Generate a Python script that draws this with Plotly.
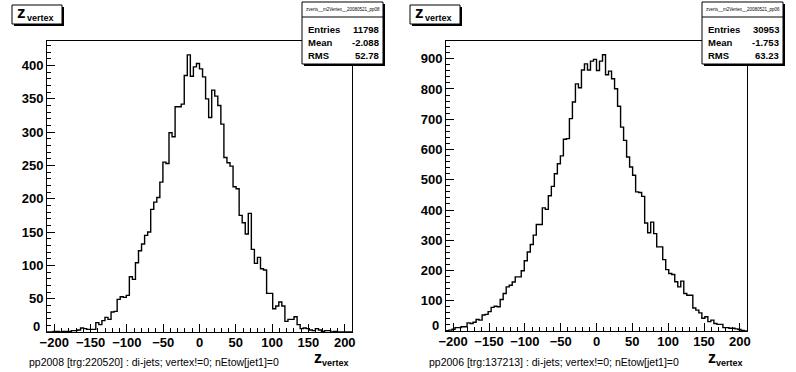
import numpy as np
import plotly.graph_objects as go

W, H = 796, 372

# histogram definition (100 bins from -210 to 210)
x_min, x_max, n_bins = -210.0, 210.0, 100

counts_pp2008 = [
    0, 0, 1, 1, 0, 1, 1, 1, 2, 2, 3, 6, 5, 4, 4, 4,
    14, 11, 17, 22, 19, 30, 31, 49, 53, 52, 55,
    83, 79, 104, 122, 132, 145, 150, 184, 195, 202,
    225, 255, 253, 299, 293, 338, 338, 342, 385, 416,
    384, 398, 403, 395, 383, 350, 322, 363, 354, 340,
    312, 262, 254, 249, 218, 215, 175, 164, 147, 178,
    124, 103, 112, 95, 93, 58, 58, 35, 39, 45,
    39, 16, 19, 19, 23, 11, 5, 6, 5, 3, 2, 5, 3, 1, 2, 2,
    0, 1, 0, 0, 0, 0, 0,
]

counts_pp2006 = [
    1, 3, 6, 11, 11, 14, 14, 27, 25, 29,
    38, 36, 53, 55, 64, 78, 82, 80, 104, 124,
    146, 151, 162, 179, 179, 199, 232, 261, 286, 317,
    352, 352, 407, 402, 447, 478, 520, 553, 579, 634,
    636, 702, 757, 817, 804, 863, 883, 863, 892, 898,
    861, 892, 913, 847, 859, 834, 801, 743, 674, 630,
    575, 542, 515, 460, 458, 445, 357, 325, 360, 322,
    278, 278, 236, 203, 190, 187, 163, 146, 165, 124,
    118, 118, 76, 69, 60, 42, 47, 31, 36, 25,
    22, 22, 11, 11, 9, 9, 7, 5, 2, 0,
]

x_tick_step = 50
stats_pp2008 = [("Entries", "11798"), ("Mean", "-2.088"), ("RMS", "52.78")]
stats_pp2006 = [("Entries", "30953"), ("Mean", "-1.753"), ("RMS", "63.23")]
stat_title_pp2008 = "zverts__m2Vertex__20080521_pp08"
stat_title_pp2006 = "zverts__m2Vertex__20080521_pp06"
note_pp2008 = "pp2008 [trg:220520] : di-jets; vertex!=0; nEtow[jet1]=0"
note_pp2006 = "pp2006 [trg:137213] : di-jets; vertex!=0; nEtow[jet1]=0"
hist_title_main = "z"
hist_title_sub = "vertex"

FONT = "Liberation Sans, Arial, Helvetica, sans-serif"


def px(x):
    return x / W


def py(y):
    return 1 - y / H


edges = np.linspace(x_min, x_max, n_bins + 1)

panels = [
    dict(counts=counts_pp2008, frame=(47, 352, 41, 332), ydt=50, yminor=10,
         stat_x=(302, 383), stats=stats_pp2008, stat_title=stat_title_pp2008,
         title_x=12, note_x=27, note=note_pp2008, xt_right=350),
    dict(counts=counts_pp2006, frame=(446, 747, 41, 331), ydt=100, yminor=20,
         stat_x=(702, 783), stats=stats_pp2006, stat_title=stat_title_pp2006,
         title_x=410, note_x=427, note=note_pp2006, xt_right=744),
]

fig = go.Figure()
shapes = []
annotations = []

for k, p in enumerate(panels):
    idx = "" if k == 0 else str(k + 1)
    c = list(p["counts"])
    xs = [edges[0]] + list(edges[:-1]) + [edges[-1], edges[-1]]
    ys = [0] + c + [c[-1], 0]
    fig.add_trace(go.Scatter(
        x=xs, y=ys, mode="lines", line=dict(color="black", width=1.4, shape="hv"),
        xaxis="x" + idx, yaxis="y" + idx, showlegend=False, hoverinfo="skip",
    ))
    x0, x1, y0, y1 = p["frame"]
    ymax = 1.05 * max(c)
    yticks = list(range(p["ydt"], int(ymax) + 1, p["ydt"]))
    axis_common = dict(
        showline=True, linecolor="black", linewidth=1, mirror=True,
        ticks="inside", ticklen=8, tickcolor="black", tickwidth=1,
        showgrid=False, zeroline=False, automargin=False,
        tickfont=dict(family=FONT, size=13, color="black", weight="bold"),
    )
    fig.update_layout(**{
        "xaxis" + idx: dict(
            domain=[px(x0), px(x1)], range=[x_min, x_max], anchor="y" + idx,
            tickmode="linear", tick0=0, dtick=x_tick_step, ticklabelstandoff=-2,
            minor=dict(ticks="inside", ticklen=4, tickcolor="black",
                       tickmode="linear", dtick=10, tick0=0),
            **axis_common),
        "yaxis" + idx: dict(
            domain=[py(y1), py(y0)], range=[0, ymax], anchor="x" + idx,
            tickmode="array", tickvals=[0] + yticks, ticktext=[""] + [str(v) for v in yticks],
            minor=dict(ticks="inside", ticklen=4, tickcolor="black",
                       tickmode="linear", dtick=p["yminor"], tick0=0),
            **axis_common),
    })
    # the "0" label of the y axis sits slightly above the axis (ROOT style)
    annotations.append(dict(x=px(x0 - 5), y=0, xref="paper", yref="y" + idx,
                            yshift=6, text="<b>0</b>", showarrow=False,
                            xanchor="right", yanchor="middle",
                            font=dict(family=FONT, size=13, color="black")))

    # title box
    tx = p["title_x"]
    shapes.append(dict(type="rect", xref="paper", yref="paper",
                       x0=px(tx + 2), x1=px(tx + 52), y0=py(26), y1=py(7),
                       fillcolor="black", line=dict(width=0), layer="above"))
    shapes.append(dict(type="rect", xref="paper", yref="paper",
                       x0=px(tx), x1=px(tx + 50), y0=py(24), y1=py(5),
                       fillcolor="white", line=dict(color="black", width=1), layer="above"))
    annotations.append(dict(x=px(tx + 4), y=py(13), xref="paper", yref="paper",
                            text="<b>" + hist_title_main + "</b>", showarrow=False,
                            xanchor="left", yanchor="middle", borderpad=0,
                            font=dict(family=FONT, size=17, color="black")))
    annotations.append(dict(x=px(tx + 14), y=py(18), xref="paper", yref="paper",
                            text="<b>" + hist_title_sub + "</b>", showarrow=False,
                            xanchor="left", yanchor="middle", borderpad=0,
                            font=dict(family=FONT, size=9, color="black")))

    # stat box
    sx0, sx1 = p["stat_x"]
    shapes.append(dict(type="rect", xref="paper", yref="paper",
                       x0=px(sx0 + 2), x1=px(sx1 + 2), y0=py(66), y1=py(4),
                       fillcolor="black", line=dict(width=0), layer="above"))
    shapes.append(dict(type="rect", xref="paper", yref="paper",
                       x0=px(sx0), x1=px(sx1), y0=py(64), y1=py(2),
                       fillcolor="white", line=dict(color="black", width=1), layer="above"))
    shapes.append(dict(type="line", xref="paper", yref="paper",
                       x0=px(sx0), x1=px(sx1), y0=py(17), y1=py(17),
                       line=dict(color="black", width=1), layer="above"))
    annotations.append(dict(x=px((sx0 + sx1) / 2), y=py(10), xref="paper", yref="paper",
                            text=p["stat_title"], showarrow=False,
                            xanchor="center", yanchor="middle",
                            font=dict(family=FONT, size=4.5, color="black")))
    for j, (lab, val) in enumerate(p["stats"]):
        yy = 29 + j * 13.5
        annotations.append(dict(x=px(sx0 + 4), y=py(yy), xref="paper", yref="paper",
                                text="<b>" + lab + "</b>", showarrow=False,
                                xanchor="left", yanchor="middle",
                                font=dict(family=FONT, size=9.5, color="black")))
        annotations.append(dict(x=px(sx1 - 2), y=py(yy), xref="paper", yref="paper",
                                text="<b>" + val + "</b>", showarrow=False,
                                xanchor="right", yanchor="middle",
                                font=dict(family=FONT, size=9.5, color="black")))

    # x-axis title
    xr = p["xt_right"]
    annotations.append(dict(x=px(xr), y=py(363), xref="paper", yref="paper",
                            text="<b>" + hist_title_sub + "</b>", showarrow=False,
                            xanchor="right", yanchor="middle", borderpad=0,
                            font=dict(family=FONT, size=9, color="black")))
    annotations.append(dict(x=px(xr - 27), y=py(357), xref="paper", yref="paper",
                            text="<b>" + hist_title_main + "</b>", showarrow=False,
                            xanchor="right", yanchor="middle", borderpad=0,
                            font=dict(family=FONT, size=16, color="black")))
    # bottom note
    annotations.append(dict(x=px(p["note_x"]), y=py(362), xref="paper", yref="paper",
                            text=p["note"], showarrow=False,
                            xanchor="left", yanchor="middle",
                            font=dict(family=FONT, size=10.5, color="black")))

fig.update_layout(
    width=W, height=H, margin=dict(l=0, r=0, t=0, b=0, pad=0, autoexpand=False),
    paper_bgcolor="white", plot_bgcolor="white",
    shapes=shapes, annotations=annotations, showlegend=False,
)

fig.write_html(
    "out.html",
    config={"displayModeBar": False},
    post_script="document.body.style.margin='0';document.body.style.padding='0';"
                "document.body.style.overflow='hidden';",
)
